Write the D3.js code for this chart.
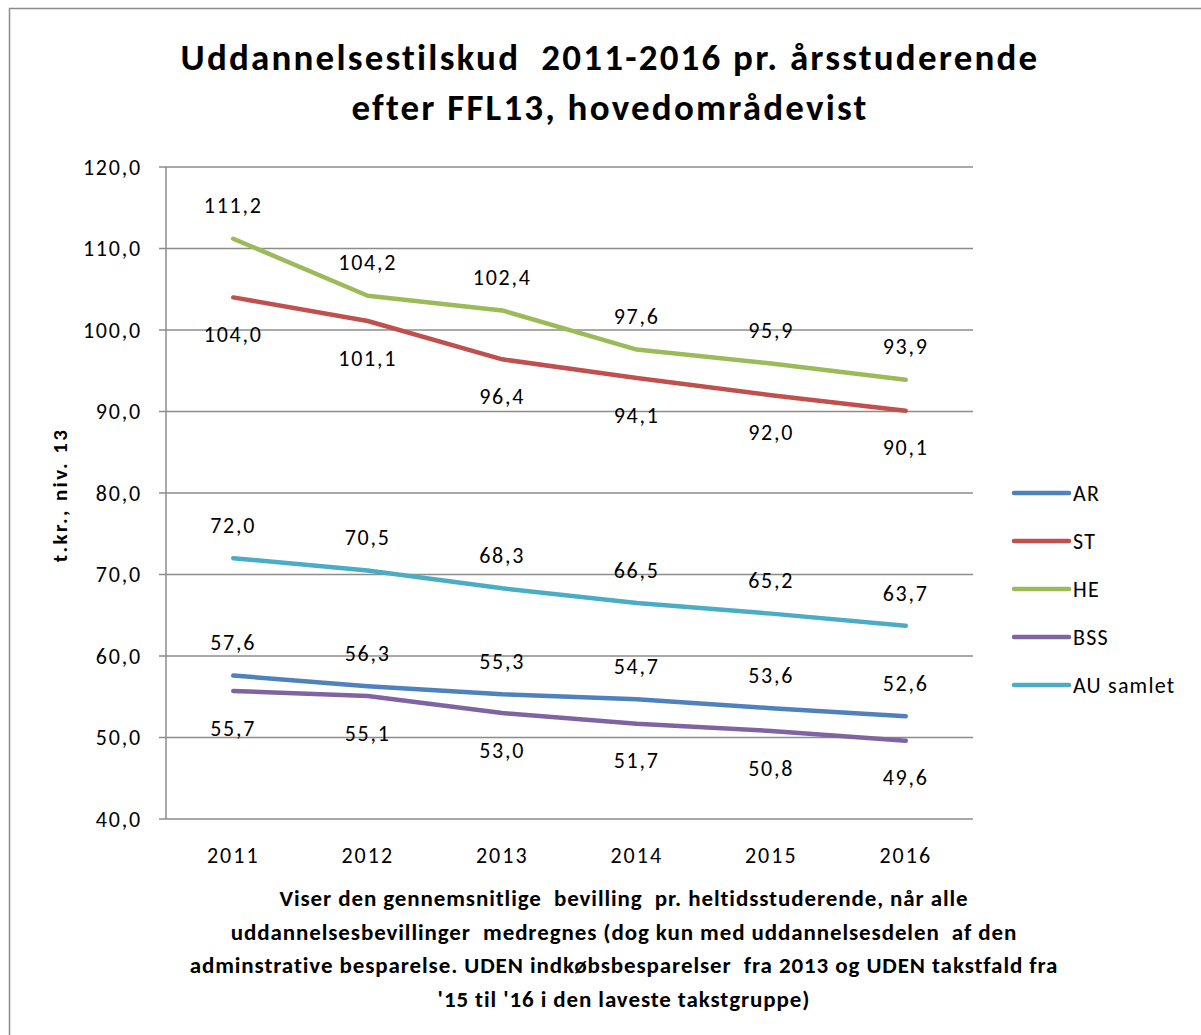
<!DOCTYPE html>
<html>
<head>
<meta charset="utf-8">
<script src="https://cdn.jsdelivr.net/npm/d3@7"></script>
<style>
  body { margin: 0; background: #fff; }
  text { font-family: Carlito, Lato, "Liberation Sans", sans-serif; fill: #000; white-space: pre; }
</style>
</head>
<body>
<div id="chart"></div>
<script>
let years = ["2011", "2012", "2013", "2014", "2015", "2016"];
let seriesNames = ["AR", "ST", "HE", "BSS", "AU samlet"];
let arValues = [57.6, 56.3, 55.3, 54.7, 53.6, 52.6];
let stValues = [104.0, 101.1, 96.4, 94.1, 92.0, 90.1];
let heValues = [111.2, 104.2, 102.4, 97.6, 95.9, 93.9];
let bssValues = [55.7, 55.1, 53.0, 51.7, 50.8, 49.6];
let auValues = [72.0, 70.5, 68.3, 66.5, 65.2, 63.7];
let yTicks = [40, 50, 60, 70, 80, 90, 100, 110, 120];

let colors = ["#4f81bd", "#c0504d", "#9bbb59", "#8064a2", "#4bacc6"];
// label above (-1) or below (+1) the line, as in the original
let labelSide = [-1, 1, -1, 1, -1];

let series = seriesNames.map((name, i) => ({
  name: name,
  values: [arValues, stValues, heValues, bssValues, auValues][i],
  color: colors[i],
  side: labelSide[i]
}));

let svgWidth = 1201;
let svgHeight = 1035;

let svg = d3.select("#chart")
  .append("svg")
  .attr("width", svgWidth)
  .attr("height", svgHeight);

// outer frame
svg.append("rect")
  .attr("x", 9.5)
  .attr("y", 8.5)
  .attr("width", 1200)
  .attr("height", 1040)
  .attr("fill", "none")
  .attr("stroke", "#8c8c8c")
  .attr("stroke-width", 1.5);

let plot = { left: 166, right: 973, top: 167, bottom: 819 };

let x = d3.scaleBand()
  .domain(years)
  .range([plot.left, plot.right]);

let y = d3.scaleLinear()
  .domain([40, 120])
  .range([plot.bottom, plot.top]);

let fmt = d => d3.format(".1f")(d).replace(".", ",");

// gridlines
svg.append("g")
  .selectAll("line")
  .data(yTicks)
  .enter()
  .append("line")
  .attr("x1", plot.left - 7)
  .attr("x2", plot.right)
  .attr("y1", d => y(d))
  .attr("y2", d => y(d))
  .attr("stroke", "#8c8c8c")
  .attr("stroke-width", 1.5);

// y axis line
svg.append("line")
  .attr("x1", plot.left)
  .attr("x2", plot.left)
  .attr("y1", plot.top)
  .attr("y2", plot.bottom)
  .attr("stroke", "#8c8c8c")
  .attr("stroke-width", 1.5);

// y tick labels
svg.append("g")
  .selectAll("text")
  .data(yTicks)
  .enter()
  .append("text")
  .attr("x", plot.left - 24)
  .attr("y", d => y(d))
  .attr("dy", "0.35em")
  .attr("text-anchor", "end")
  .attr("font-size", 22)
  .attr("letter-spacing", 1.8)
  .text(fmt);

// x tick labels
svg.append("g")
  .selectAll("text")
  .data(years)
  .enter()
  .append("text")
  .attr("x", d => x(d) + x.bandwidth() / 2)
  .attr("y", plot.bottom + 36)
  .attr("dy", "0.35em")
  .attr("text-anchor", "middle")
  .attr("font-size", 22)
  .attr("letter-spacing", 2)
  .text(d => d);

let line = d3.line()
  .x((d, i) => x(years[i]) + x.bandwidth() / 2)
  .y(d => y(d));

// lines
svg.append("g")
  .selectAll("path")
  .data(series)
  .enter()
  .append("path")
  .attr("d", d => line(d.values))
  .attr("fill", "none")
  .attr("stroke", d => d.color)
  .attr("stroke-width", 4.5)
  .attr("stroke-linejoin", "round")
  .attr("stroke-linecap", "round");

// data labels
series.forEach(function(s) {
  svg.append("g")
    .selectAll("text")
    .data(s.values)
    .enter()
    .append("text")
    .attr("x", (d, i) => x(years[i]) + x.bandwidth() / 2)
    .attr("y", d => y(d) + (s.side < 0 ? -33 : 37))
    .attr("dy", "0.35em")
    .attr("text-anchor", "middle")
    .attr("font-size", 22)
    .attr("letter-spacing", 1.8)
    .text(fmt);
});

// legend
let legend = svg.append("g")
  .selectAll("g")
  .data(series)
  .enter()
  .append("g")
  .attr("transform", (d, i) => `translate(1014, ${493 + i * 48})`);

legend.append("line")
  .attr("x1", 0)
  .attr("x2", 55)
  .attr("stroke", d => d.color)
  .attr("stroke-width", 4.5)
  .attr("stroke-linecap", "round");

legend.append("text")
  .attr("x", 59)
  .attr("dy", "0.35em")
  .attr("font-size", 22)
  .attr("letter-spacing", 1.2)
  .text(d => d.name);

// title
let title = svg.append("text")
  .attr("text-anchor", "middle")
  .attr("font-size", 37)
  .attr("font-weight", "bold")
  .attr("letter-spacing", 2.2);
title.append("tspan").attr("x", 610).attr("y", 70).text("Uddannelsestilskud  2011-2016 pr. årsstuderende");
title.append("tspan").attr("x", 610).attr("y", 120).text("efter FFL13, hovedområdevist");

// y axis title
svg.append("text")
  .attr("transform", "translate(60, 495) rotate(-90)")
  .attr("dy", "0.35em")
  .attr("text-anchor", "middle")
  .attr("font-size", 21)
  .attr("font-weight", "bold")
  .attr("letter-spacing", 2.4)
  .text("t.kr., niv. 13");

// x axis title
let notes = [
  "Viser den gennemsnitlige  bevilling  pr. heltidsstuderende, når alle",
  "uddannelsesbevillinger  medregnes (dog kun med uddannelsesdelen  af den",
  "adminstrative besparelse. UDEN indkøbsbesparelser  fra 2013 og UDEN takstfald fra",
  "'15 til '16 i den laveste takstgruppe)"
];
svg.append("g")
  .selectAll("text")
  .data(notes)
  .enter()
  .append("text")
  .attr("x", 624)
  .attr("y", (d, i) => 898 + i * 33.5)
  .attr("dy", "0.35em")
  .attr("text-anchor", "middle")
  .attr("font-size", 23)
  .attr("font-weight", "bold")
  .attr("letter-spacing", 0.9)
  .text(d => d);
</script>
</body>
</html>
